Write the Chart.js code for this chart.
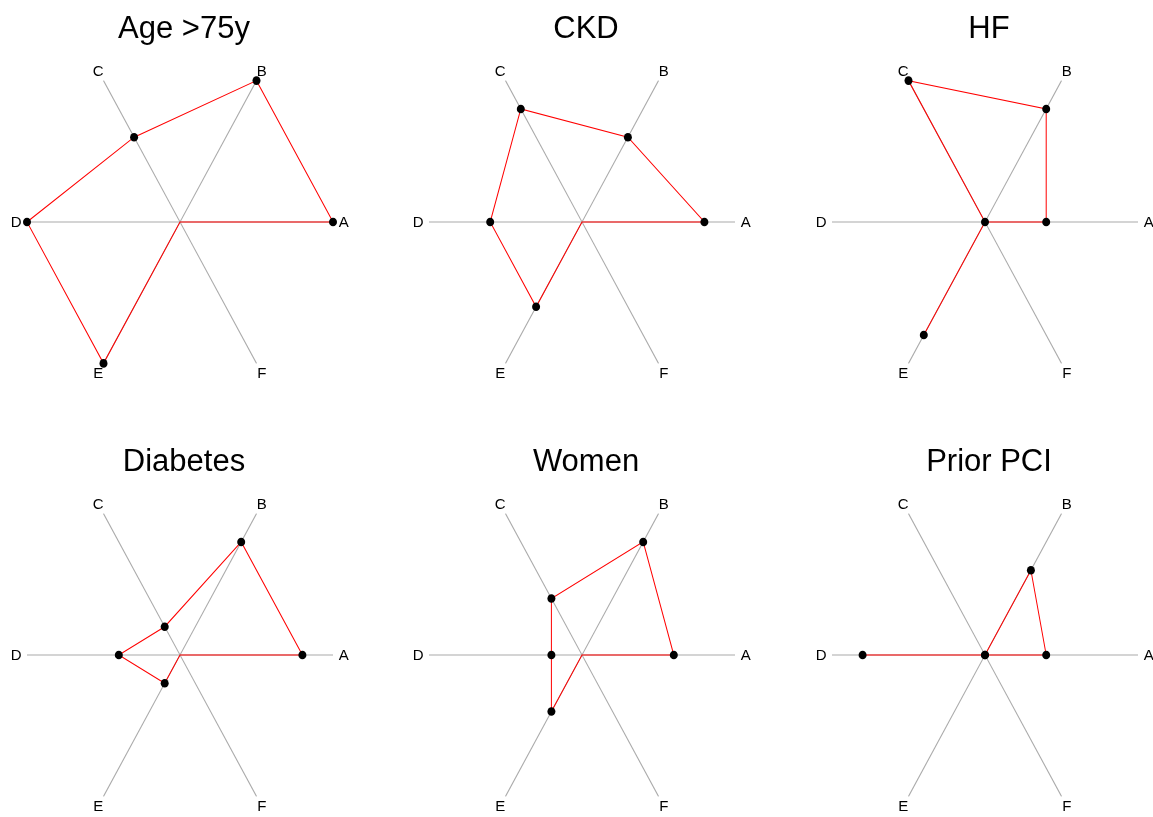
<!DOCTYPE html>
<html>
<head>
<meta charset="utf-8">
<script src="https://cdn.jsdelivr.net/npm/chart.js@4.4.1/dist/chart.umd.min.js"></script>
<style>
  html, body { margin: 0; padding: 0; background: #ffffff; width: 1153px; height: 817px; overflow: hidden; }
  #wrap { position: relative; width: 1153px; height: 817px; }
  canvas { position: absolute; }
</style>
</head>
<body>
<div id="wrap"></div>
<script>
// ---- data ----
const categories = ['A', 'B', 'C', 'D', 'E', 'F'];
const panelTitles = ['Age >75y', 'CKD', 'HF', 'Diabetes', 'Women', 'Prior PCI'];
// null = missing value (drawn at centre, no marker)
const ageValues      = [1.0, 1.0, 0.6, 1.0, 1.0, null];
const ckdValues      = [0.8, 0.6, 0.8, 0.6, 0.6, null];
const hfValues       = [0.4, 0.8, 1.0, 0.0, 0.8, null];
const diabetesValues = [0.8, 0.8, 0.2, 0.4, 0.2, null];
const womenValues    = [0.6, 0.8, 0.4, 0.2, 0.4, null];
const priorPciValues = [0.4, 0.6, 0.0, 0.8, 0.0, null];
const axisMin = 0;
const axisMax = 1;

const panelValues = [ageValues, ckdValues, hfValues, diabetesValues, womenValues, priorPciValues];

// ---- layout ----
const STRETCH = 1.067;           // vertical / horizontal aspect of the reference
const CW = 400, CH = 440;
const colLefts = [-20, 382, 785];
const rowTops = [2, 435];
// Chart.js runs clockwise; reference runs counter-clockwise starting at A (right)
const order = [0, 5, 4, 3, 2, 1];

function makeStretchPlugin(title) {
  return {
    id: 'stretchAndText',
    beforeDraw(chart) {
      const s = chart.scales.r;
      const ctx = chart.ctx;
      ctx.save();
      ctx.translate(0, s.yCenter);
      ctx.scale(1, STRETCH);
      ctx.translate(0, -s.yCenter);
    },
    afterDraw(chart) {
      const ctx = chart.ctx;
      ctx.restore();
      const s = chart.scales.r;
      ctx.save();
      ctx.fillStyle = '#000000';
      ctx.textAlign = 'center';
      ctx.textBaseline = 'middle';
      ctx.font = '15px "Liberation Sans", Arial, Helvetica, sans-serif';
      chart.data.labels.forEach((lab, i) => {
        const p = s.getPointPosition(i, s.drawingArea * 1.07);
        ctx.fillText(lab, p.x, s.yCenter + (p.y - s.yCenter) * STRETCH + 1);
      });
      ctx.font = '31px "Liberation Sans", Arial, Helvetica, sans-serif';
      ctx.textBaseline = 'alphabetic';
      ctx.fillText(title, s.xCenter + 4, s.yCenter - 184.5);
      ctx.restore();
    }
  };
}

const wrap = document.getElementById('wrap');
panelValues.forEach((vals, idx) => {
  const col = idx % 3, row = Math.floor(idx / 3);
  const canvas = document.createElement('canvas');
  canvas.width = CW; canvas.height = CH;
  canvas.style.width = CW + 'px'; canvas.style.height = CH + 'px';
  canvas.style.left = colLefts[col] + 'px';
  canvas.style.top = rowTops[row] + 'px';
  wrap.appendChild(canvas);

  const labels = order.map(i => categories[i]);
  const data = order.map(i => (vals[i] === null ? axisMin : vals[i]));
  const missing = order.map(i => vals[i] === null);

  new Chart(canvas, {
    type: 'radar',
    data: {
      labels: labels,
      datasets: [{
        data: data,
        borderColor: '#ff0000',
        borderWidth: 1,
        backgroundColor: 'rgba(0,0,0,0)',
        fill: false,
        tension: 0,
        clip: false,
        pointBackgroundColor: '#000000',
        pointBorderColor: '#000000',
        pointBorderWidth: 0,
        pointRadius: ctx => (missing[ctx.dataIndex] ? 0 : 4),
        pointHoverRadius: ctx => (missing[ctx.dataIndex] ? 0 : 4)
      }]
    },
    plugins: [makeStretchPlugin(panelTitles[idx])],
    options: {
      responsive: false,
      animation: false,
      devicePixelRatio: 1,
      layout: { padding: { left: 47, right: 46, top: 67, bottom: 66 } },
      plugins: { legend: { display: false }, tooltip: { enabled: false }, title: { display: false } },
      events: [],
      scales: {
        r: {
          min: axisMin,
          max: axisMax,
          startAngle: 90,
          grid: { display: false },
          angleLines: { display: true, color: '#aaaaaa', lineWidth: 1 },
          ticks: { display: false },
          pointLabels: { display: false }
        }
      }
    }
  });
});
</script>
</body>
</html>
